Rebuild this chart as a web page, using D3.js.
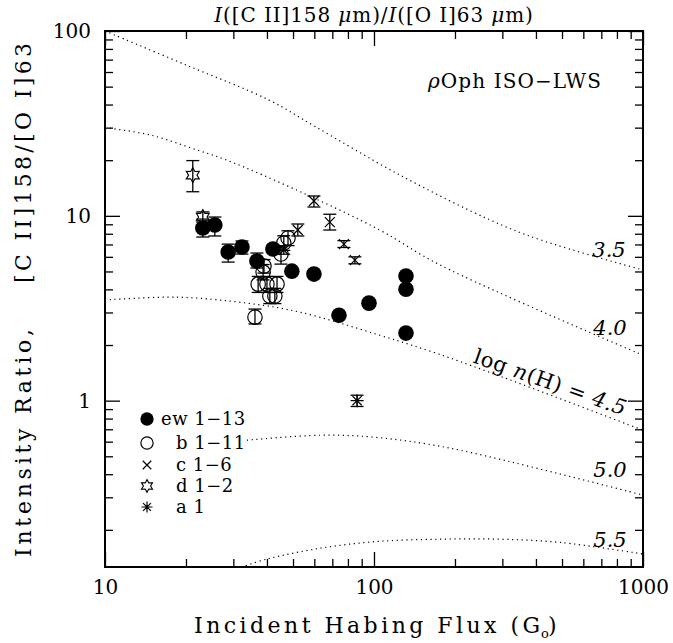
<!DOCTYPE html>
<html>
<head>
<meta charset="utf-8">
<script src="https://cdn.jsdelivr.net/npm/d3@7"></script>
<style>
  body { margin: 0; background: #fff; }
  text { font-family: "DejaVu Serif", serif; fill: #000; }
</style>
</head>
<body>
<div id="chart"></div>
<script>
// observed ratios: G0, ratio, lower/upper error
const ewPts = [
  { g: 23.1, r: 8.59, lo: 7.68, hi: 9.6 },
  { g: 25.6, r: 8.92, lo: 7.78, hi: 9.85 },
  { g: 28.7, r: 6.37, lo: 5.62, hi: 7.03 },
  { g: 32.3, r: 6.78, lo: 6.21, hi: 7.31 },
  { g: 36.7, r: 5.69, lo: 5.22, hi: 6.29 },
  { g: 42.1, r: 6.61, lo: 6.3, hi: 6.95 },
  { g: 49.5, r: 5.02, lo: 4.85, hi: 5.2 },
  { g: 59.8, r: 4.84, lo: 4.65, hi: 5.05 },
  { g: 74.1, r: 2.9, lo: 2.8, hi: 3.0 },
  { g: 95.8, r: 3.37, lo: 3.25, hi: 3.5 },
  { g: 131.5, r: 4.72, lo: 4.55, hi: 4.9 },
  { g: 131.5, r: 4.01, lo: 3.85, hi: 4.15 },
  { g: 131.5, r: 2.32, lo: 2.24, hi: 2.4 }
];
const bPts = [
  { g: 36.1, r: 2.83, lo: 2.6, hi: 3.13 },
  { g: 37.1, r: 4.27, lo: 3.85, hi: 4.7 },
  { g: 38.7, r: 4.96, lo: 4.5, hi: 5.45 },
  { g: 39.0, r: 5.35, lo: 4.9, hi: 5.8 },
  { g: 40.0, r: 4.27, lo: 3.85, hi: 4.7 },
  { g: 41.0, r: 3.68, lo: 3.35, hi: 4.05 },
  { g: 42.8, r: 3.68, lo: 3.35, hi: 4.05 },
  { g: 43.6, r: 4.27, lo: 3.85, hi: 4.7 },
  { g: 45.1, r: 6.21, lo: 5.48, hi: 6.8 },
  { g: 46.2, r: 7.13, lo: 6.5, hi: 7.8 },
  { g: 47.9, r: 7.59, lo: 6.9, hi: 8.3 }
];
const cPts = [
  { g: 52.1, r: 8.38, lo: 7.78, hi: 9.03 },
  { g: 59.8, r: 12.03, lo: 11.16, hi: 12.8 },
  { g: 68.5, r: 9.25, lo: 8.38, hi: 10.2 },
  { g: 77.3, r: 7.03, lo: 6.74, hi: 7.34 },
  { g: 84.9, r: 5.76, lo: 5.5, hi: 6.0 },
  { g: 46.2, r: 6.53, lo: 6.2, hi: 6.9 }
];
const dPts = [
  { g: 21.2, r: 16.6, lo: 13.5, hi: 19.9 },
  { g: 23.1, r: 9.85, lo: 9.25, hi: 10.5 }
];
const aPts = [
  { g: 86.5, r: 1.0, lo: 0.93, hi: 1.07 }
];

// PDR model curves, log n(H)
const model35 = [[10, 100], [20, 65.5], [40.6, 42.4], [60, 30.6], [125, 16.6], [270, 9.5], [417, 7.4], [1000, 5.09]];
const model40 = [[10, 30], [14.7, 27.4], [22, 22.7], [28.4, 20], [54.4, 13.3], [105, 8.38], [176, 5.42], [1000, 1.76]];
const model45 = [[10, 3.5], [18.5, 3.63], [33.7, 3.37], [53.1, 3.01], [105, 2.26], [192, 1.7], [1000, 0.692]];
const model50 = [[33.7, 0.611], [63, 0.65], [100, 0.634], [192, 0.553], [1000, 0.308]];
const model55 = [[32.1, 0.1256], [40, 0.139], [63, 0.159], [102.5, 0.173], [176, 0.178], [294, 0.178], [491, 0.171], [1000, 0.148]];

const xMajor = [10, 100, 1000];
const yMajor = [1, 10, 100];

const margin = { left: 105, top: 31 };
const width = 538, height = 536;

const svg = d3.select("#chart")
  .append("svg")
  .attr("width", 673)
  .attr("height", 643);

const g = svg.append("g").attr("transform", `translate(${margin.left},${margin.top})`);

const x = d3.scaleLog().domain([10, 1000]).range([0, width]);
const y = d3.scaleLog().domain([Math.pow(10, -0.9), 100]).range([height, 0]);

const xMinor = [];
[10, 100].forEach(d => { for (let k = 2; k <= 9; k++) xMinor.push(d * k); });
const yMinor = [];
[0.1, 1, 10].forEach(d => { for (let k = 2; k <= 9; k++) if (d * k > y.domain()[0]) yMinor.push(d * k); });

function axisStyle(sel) {
  sel.select(".domain").remove();
  sel.selectAll("line").attr("stroke", "#000").attr("stroke-width", 1.3);
  sel.selectAll("text").style("font-size", "20px").attr("fill", "#000");
}

// bottom
g.append("g").attr("transform", `translate(0,${height})`)
  .call(d3.axisBottom(x).tickValues(xMajor).tickSize(-15).tickPadding(13).tickFormat(d3.format("d")))
  .call(axisStyle);
g.append("g").attr("transform", `translate(0,${height})`)
  .call(d3.axisBottom(x).tickValues(xMinor).tickSize(-8).tickFormat(""))
  .call(axisStyle);
// top
g.append("g")
  .call(d3.axisTop(x).tickValues(xMajor).tickSize(-15).tickFormat(""))
  .call(axisStyle);
g.append("g")
  .call(d3.axisTop(x).tickValues(xMinor).tickSize(-8).tickFormat(""))
  .call(axisStyle);
// left
g.append("g")
  .call(d3.axisLeft(y).tickValues(yMajor).tickSize(-15).tickPadding(14).tickFormat(d3.format("d")))
  .call(axisStyle);
g.append("g")
  .call(d3.axisLeft(y).tickValues(yMinor).tickSize(-8).tickFormat(""))
  .call(axisStyle);
// right
g.append("g").attr("transform", `translate(${width},0)`)
  .call(d3.axisRight(y).tickValues(yMajor).tickSize(-15).tickFormat(""))
  .call(axisStyle);
g.append("g").attr("transform", `translate(${width},0)`)
  .call(d3.axisRight(y).tickValues(yMinor).tickSize(-8).tickFormat(""))
  .call(axisStyle);

g.append("rect")
  .attr("width", width)
  .attr("height", height)
  .attr("fill", "none")
  .attr("stroke", "#000")
  .attr("stroke-width", 2);

// model curves
const line = d3.line()
  .x(d => x(d[0]))
  .y(d => y(d[1]))
  .curve(d3.curveCatmullRom);

g.selectAll("path.model")
  .data([model35, model40, model45, model50, model55])
  .enter()
  .append("path")
  .attr("class", "model")
  .attr("d", line)
  .attr("fill", "none")
  .attr("stroke", "#000")
  .attr("stroke-width", 1.2)
  .attr("stroke-dasharray", "1.2 3.6");

// curve labels
const curveLabels = [
  { t: "3.5", x: 609, y: 257 },
  { t: "4.0", x: 610, y: 335 },
  { t: "5.0", x: 610, y: 477 },
  { t: "5.5", x: 610, y: 547 }
];
svg.selectAll("text.clab")
  .data(curveLabels)
  .enter()
  .append("text")
  .attr("class", "clab")
  .attr("x", d => d.x)
  .attr("y", d => d.y)
  .attr("text-anchor", "middle")
  .style("font-size", "21px")
  .style("font-style", "italic")
  .text(d => d.t);

const rot = svg.append("text")
  .attr("transform", "translate(548,389) rotate(19.5)")
  .attr("text-anchor", "middle")
  .style("font-size", "21px")
  .style("letter-spacing", "0.6px");
rot.append("tspan").text("log ");
rot.append("tspan").style("font-style", "italic").text("n");
rot.append("tspan").text("(H) = ");
rot.append("tspan").style("font-style", "italic").text("4.5");

// error bars
function errBars(data) {
  const eb = g.append("g").attr("stroke", "#000").attr("stroke-width", 1.3);
  data.forEach(d => {
    const cx = x(d.g);
    eb.append("line").attr("x1", cx).attr("x2", cx).attr("y1", y(d.lo)).attr("y2", y(d.hi));
    eb.append("line").attr("x1", cx - 6.5).attr("x2", cx + 6.5).attr("y1", y(d.lo)).attr("y2", y(d.lo));
    eb.append("line").attr("x1", cx - 6.5).attr("x2", cx + 6.5).attr("y1", y(d.hi)).attr("y2", y(d.hi));
  });
}
[ewPts, bPts, cPts, dPts, aPts].forEach(errBars);

// marker shapes
function starPath(R, r) {
  const p = d3.path();
  for (let i = 0; i < 12; i++) {
    const a = -Math.PI / 2 + i * Math.PI / 6;
    const rr = i % 2 ? r : R;
    if (i === 0) p.moveTo(rr * Math.cos(a), rr * Math.sin(a));
    else p.lineTo(rr * Math.cos(a), rr * Math.sin(a));
  }
  p.closePath();
  return p.toString();
}
function crossPath(s) {
  return `M${-s},${-s}L${s},${s}M${-s},${s}L${s},${-s}`;
}
function asterPath(s) {
  const t = s * 0.707;
  return `M0,${-s}V${s}M${-s},0H${s}M${-t},${-t}L${t},${t}M${-t},${t}L${t},${-t}`;
}

const drawMarker = {
  ew: (sel, k) => sel.append("circle").attr("r", 7.8 * k).attr("fill", "#000"),
  b: (sel, k) => sel.append("circle").attr("r", 7.2 * k).attr("fill", "none").attr("stroke", "#000").attr("stroke-width", 1.2),
  c: (sel, k) => sel.append("path").attr("d", crossPath(5 * k)).attr("stroke", "#000").attr("stroke-width", 1.2).attr("fill", "none"),
  d: (sel, k) => sel.append("path").attr("d", starPath(7.5 * k, 4.2 * k)).attr("stroke", "#000").attr("stroke-width", 1.1).attr("fill", "none"),
  a: (sel, k) => sel.append("path").attr("d", asterPath(6.5 * k)).attr("stroke", "#000").attr("stroke-width", 1.2).attr("fill", "none")
};

function plotSeries(data, kind) {
  data.forEach(d => {
    const m = g.append("g").attr("transform", `translate(${x(d.g)},${y(d.r)})`);
    drawMarker[kind](m, 1);
  });
}
plotSeries(bPts, "b");
plotSeries(cPts, "c");
plotSeries(dPts, "d");
plotSeries(aPts, "a");
plotSeries(ewPts, "ew");

// legend
const legendRows = [
  { kind: "ew", label: "ew 1\u221213", y: 419, tx: 161 },
  { kind: "b", label: "b 1\u221211", y: 443, tx: 176 },
  { kind: "c", label: "c 1\u22126", y: 465, tx: 176 },
  { kind: "d", label: "d 1\u22122", y: 486, tx: 176 },
  { kind: "a", label: "a 1", y: 507, tx: 176 }
];
legendRows.forEach(r => {
  const m = svg.append("g").attr("transform", `translate(147,${r.y})`);
  drawMarker[r.kind](m, 0.85);
  svg.append("text")
    .attr("x", r.tx)
    .attr("y", r.y + 6)
    .style("font-size", "18px")
    .style("letter-spacing", "0.5px")
    .text(r.label);
});

// annotation
const ann = svg.append("text")
  .attr("x", 428)
  .attr("y", 88)
  .style("font-size", "20px")
  .style("letter-spacing", "1.1px");
ann.append("tspan").style("font-style", "italic").text("\u03c1");
ann.append("tspan").text("Oph  ISO\u2212LWS");

// top title
const ttl = svg.append("text")
  .attr("x", 374)
  .attr("y", 22)
  .attr("text-anchor", "middle")
  .style("font-size", "20px")
  .style("letter-spacing", "0.9px");
ttl.append("tspan").style("font-style", "italic").text("I");
ttl.append("tspan").text("([C II]158 ");
ttl.append("tspan").style("font-style", "italic").text("\u03bc");
ttl.append("tspan").text("m)/");
ttl.append("tspan").style("font-style", "italic").text("I");
ttl.append("tspan").text("([O I]63 ");
ttl.append("tspan").style("font-style", "italic").text("\u03bc");
ttl.append("tspan").text("m)");

// axis titles
svg.append("text")
  .attr("x", 194)
  .attr("y", 633)
  .attr("textLength", 346)
  .attr("lengthAdjust", "spacing")
  .style("font-size", "22px")
  .text("Incident Habing Flux (G");
svg.append("text")
  .attr("x", 541)
  .attr("y", 638)
  .style("font-size", "13px")
  .text("o");
svg.append("text")
  .attr("x", 548)
  .attr("y", 633)
  .style("font-size", "22px")
  .text(")");

svg.append("text")
  .attr("transform", "translate(31,443) rotate(-90)")
  .attr("text-anchor", "middle")
  .attr("textLength", 228)
  .attr("lengthAdjust", "spacing")
  .style("font-size", "22px")
  .text("Intensity Ratio,");
svg.append("text")
  .attr("transform", "translate(31,163) rotate(-90)")
  .attr("text-anchor", "middle")
  .attr("textLength", 240)
  .attr("lengthAdjust", "spacing")
  .style("font-size", "22px")
  .text("[C II]158/[O I]63");
</script>
</body>
</html>
